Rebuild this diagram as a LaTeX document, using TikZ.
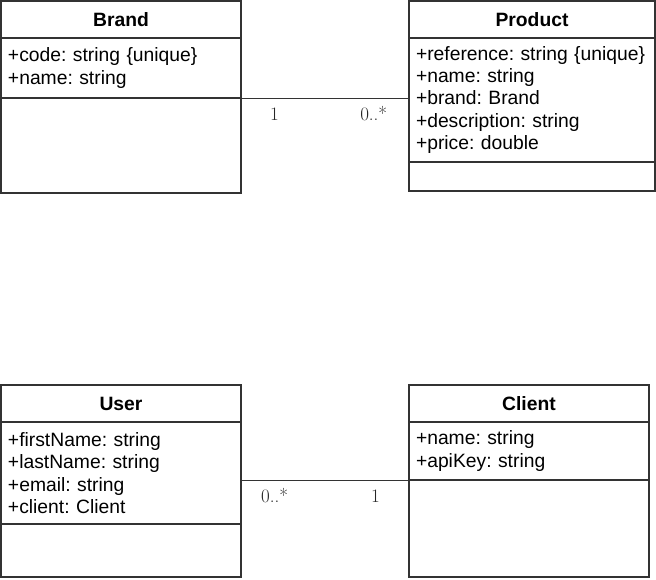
\documentclass[tikz,border=0pt]{standalone}
\usepackage{fontspec}
\newfontfamily\umlfont{Liberation Sans}
\usetikzlibrary{positioning}
\definecolor{umlgray}{HTML}{333333}
\tikzset{
	classname/.style={draw=umlgray, line width=1.4pt, rectangle, inner sep=0pt, outer sep=0pt, minimum height=37pt, font=\umlfont\bfseries\fontsize{19.3}{22.3}\selectfont},
	attrs/.style={draw=umlgray, line width=1.4pt, rectangle, inner xsep=7pt, inner ysep=0pt, outer sep=0pt, align=left, font=\umlfont\frenchspacing\fontsize{19.3}{22.3}\selectfont},
	ops/.style={draw=umlgray, line width=1.4pt, rectangle, inner sep=0pt, outer sep=0pt},
	% multiplicities under the associations
	mult/.style={font=\rmfamily\fontsize{19}{21}\selectfont, inner sep=0pt, text=black!85},
}

\begin{document}
\begin{tikzpicture}
	\useasboundingbox (0pt,0pt) rectangle (656pt,-579pt);
	
	\node (brand) [classname, minimum width=240pt, anchor=north west] at (1pt,-1pt) {Brand};
	\node (brandattr) [attrs, minimum width=240pt, text width=226pt, minimum height=60pt, below=0pt of brand] {+code: string \{unique\}\\+name: string};
	\node (brandops) [ops, minimum width=240pt, minimum height=95pt, below=0pt of brandattr] {};
	
	\node (product) [classname, minimum width=246pt, right=168pt of brand] {Product};
	\node (productattr) [attrs, minimum width=246pt, text width=232pt, minimum height=124pt, below=0pt of product] {+reference: string \{unique\}\\+name: string\\+brand: Brand\\+description: string\\+price: double};
	\node (productops) [ops, minimum width=246pt, minimum height=29pt, below=0pt of productattr] {};
	
	\node (user) [classname, minimum width=240pt, below=192pt of brandops] {User};
	\node (userattr) [attrs, minimum width=240pt, text width=226pt, minimum height=102pt, below=0pt of user] {+firstName: string\\+lastName: string\\+email: string\\+client: Client};
	\node (userops) [ops, minimum width=240pt, minimum height=53pt, below=0pt of userattr] {};
	
	\node (client) [classname, minimum width=240pt, right=168pt of user] {Client};
	\node (clientattr) [attrs, minimum width=240pt, text width=226pt, minimum height=58pt, below=0pt of client] {+name: string\\+apiKey: string};
	\node (clientops) [ops, minimum width=240pt, minimum height=97pt, below=0pt of clientattr] {};
	
	\begin{scope}[umlgray, line width=1pt]
		\draw (brandattr.south east) -- (brandattr.south east -| product.west)
			node (m1) [mult, pos=0.2, yshift=-16pt] {1}
			node (m2) [mult, pos=0.79, yshift=-16pt] {0..*};
		\draw (clientattr.south west -| user.east) -- (clientattr.south west)
			node (m3) [mult, pos=0.2, yshift=-16pt] {0..*}
			node (m4) [mult, pos=0.8, yshift=-16pt] {1};
	\end{scope}
	
\end{tikzpicture}
\end{document}
